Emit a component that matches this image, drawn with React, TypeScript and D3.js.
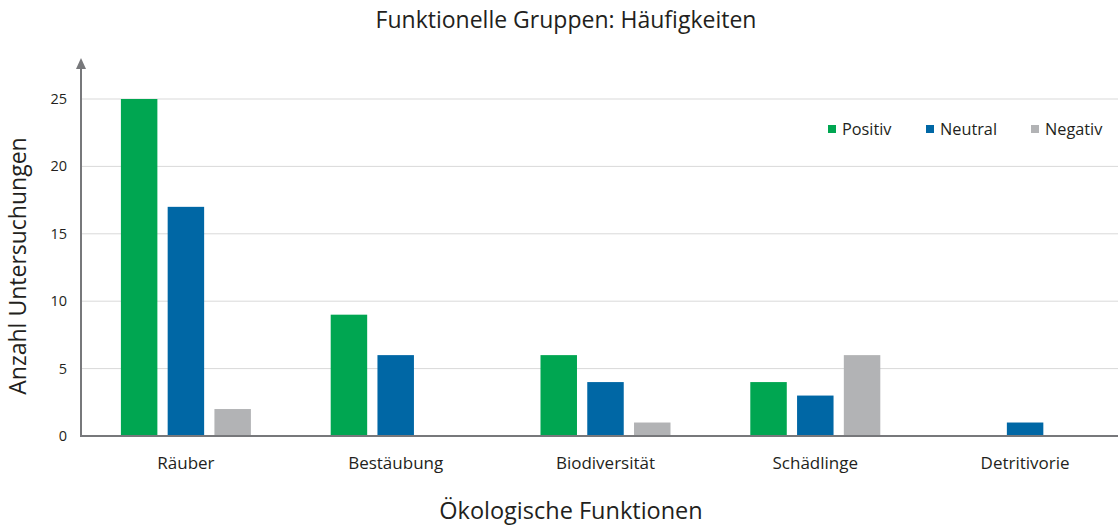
import React from "react";
import * as d3 from "d3";

const categories = ["Räuber", "Bestäubung", "Biodiversität", "Schädlinge", "Detritivorie"];
const seriesNames = ["Positiv", "Neutral", "Negativ"];
const positiv = [25, 9, 6, 4, 0];
const neutral = [17, 6, 4, 3, 1];
const negativ = [2, 0, 1, 6, 0];
const yTicks = [0, 5, 10, 15, 20, 25];
const colors = ["#00a651", "#0067a5", "#b2b3b5"];

const W = 1118, H = 526;
const FONT = "'Open Sans', 'Noto Sans', sans-serif";

export default function App() {
  const left = 81, right = 1118, top = 99, bottom = 436;
  const x = d3.scaleBand<string>().domain(categories).range([left, 1130]).paddingInner(0).paddingOuter(0);
  const y = d3.scaleLinear().domain([0, 25]).range([bottom, top]);
  const inner = d3.scaleBand<string>().domain(seriesNames).range([0, 130]).paddingInner(0.22);
  const series = [positiv, neutral, negativ];
  const legendX = [828, 926, 1031];

  return (
    <svg width={W} height={H} style={{ position: "absolute", left: 0, top: 0, background: "#fff" }} fontFamily={FONT}>
      <text x={566} y={28} textAnchor="middle" fontSize={23} fill="#231f20">Funktionelle Gruppen: Häufigkeiten</text>
      {yTicks.filter(t => t > 0).map(t => (
        <line key={t} x1={left} x2={right} y1={y(t)} y2={y(t)} stroke="#d9d9d9" strokeWidth={1} />
      ))}
      {yTicks.map(t => (
        <text key={"t" + t} x={67} y={y(t) + 5} textAnchor="end" fontSize={14.5} fill="#231f20">{t}</text>
      ))}
      {categories.map((c, i) => {
        const x0 = (x(c) as number) + x.bandwidth() / 2 - 65;
        return (
          <g key={c}>
            {series.map((s, j) => s[i] > 0 ? (
              <rect key={j} x={x0 + (inner(seriesNames[j]) as number)} y={y(s[i])} width={inner.bandwidth()} height={bottom - y(s[i])} fill={colors[j]} />
            ) : null)}
            <text x={(x(c) as number) + x.bandwidth() / 2} y={469} textAnchor="middle" fontSize={17} fill="#231f20">{c}</text>
          </g>
        );
      })}
      <line x1={left} x2={right} y1={bottom} y2={bottom} stroke="#77787b" strokeWidth={2} />
      <line x1={left} x2={left} y1={bottom + 1} y2={68} stroke="#77787b" strokeWidth={2} />
      <path d={`M${left - 5},${69} L${left + 5},${69} L${left},${58} Z`} fill="#77787b" />
      <text transform={`translate(26,${266}) rotate(-90)`} textAnchor="middle" fontSize={23} fill="#231f20">Anzahl Untersuchungen</text>
      <text x={571} y={519} textAnchor="middle" fontSize={23.5} fill="#231f20">Ökologische Funktionen</text>
      {seriesNames.map((n, j) => (
        <g key={n}>
          <rect x={legendX[j]} y={125} width={8} height={8} fill={colors[j]} />
          <text x={legendX[j] + 14} y={135} fontSize={16.3} fill="#231f20">{n}</text>
        </g>
      ))}
    </svg>
  );
}
